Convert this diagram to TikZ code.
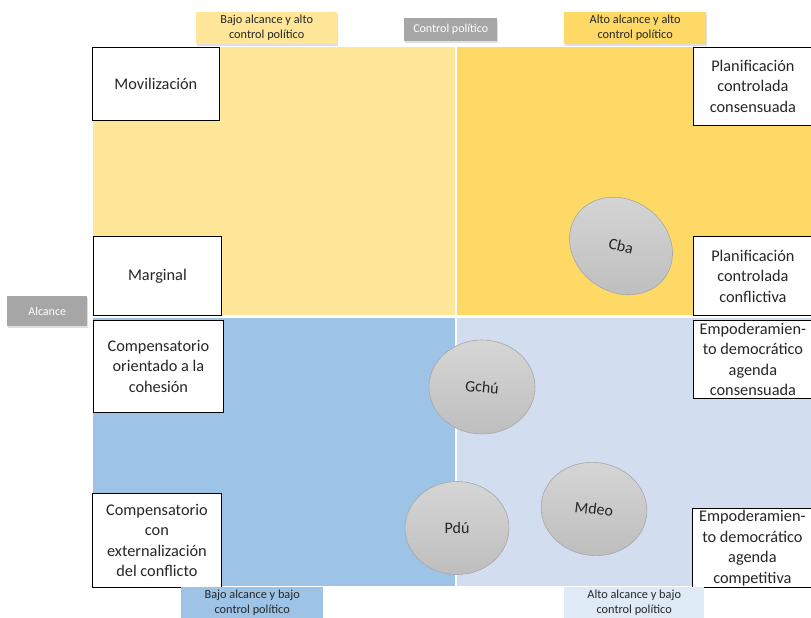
\documentclass[tikz,border=0pt]{standalone}
\usepackage{fontspec}
\setmainfont{Carlito}
\usetikzlibrary{shapes.geometric,shadows}
\definecolor{ylight}{HTML}{FFE699}
\definecolor{ydark}{HTML}{FFD966}
\definecolor{bdark}{HTML}{9DC3E6}
\definecolor{blight}{HTML}{D2DEF0}
\definecolor{btag}{HTML}{DEEBF7}
\definecolor{grayt}{HTML}{A6A6A6}
\definecolor{blobc}{HTML}{C8C8C8}
\definecolor{txt}{HTML}{262626}
\begin{document}
\begin{tikzpicture}[x=1pt,y=-1pt,
  catbox/.style={draw=black, line width=0.8pt, fill=white, align=center,
    font=\fontsize{16.3}{20.5}\selectfont, text=txt, anchor=north west, inner sep=0pt},
  tag/.style={align=center, font=\fontsize{12.3}{15}\selectfont, anchor=north west,
    inner sep=0pt, text=txt},
  tagshadow/.style={drop shadow={shadow xshift=1pt, shadow yshift=-1.5pt, opacity=0.25}},
  graytag/.style={fill=grayt, text=white, font=\fontsize{12}{14}\selectfont,
    anchor=north west, inner sep=0pt},
  blob/.style={ellipse, draw=black!35, line width=0.6pt, top color=blobc!75!white,
    bottom color=blobc!95!black, inner sep=0pt},
  blobtext/.style={font=\fontsize{16}{18}\selectfont, text=txt}
]
\useasboundingbox (0,0) rectangle (811,618);
\fill[white] (0,0) rectangle (811,618);
% quadrants
\fill[ylight] (93,47) rectangle (455,315);
\fill[ydark] (457,47) rectangle (811,315);
\fill[bdark] (93,318) rectangle (455,586);
\fill[blight] (457,318) rectangle (811,586);

% category boxes
\node[catbox, minimum width=127, minimum height=73] (movil) at (92,47) {Movilización};
\node[catbox, minimum width=128, minimum height=79] (marg) at (93,236) {Marginal};
\node[catbox, minimum width=130, minimum height=92] (comp1) at (93,320) {Compensatorio\\orientado a la\\cohesión};
\node[catbox, minimum width=129, minimum height=94] (comp2) at (92,493) {Compensatorio\\con\\externalización\\del conflicto};
\node[catbox, minimum width=119, minimum height=78] (plan1) at (693,47) {Planificación\\controlada\\consensuada};
\node[catbox, minimum width=119, minimum height=79] (plan2) at (693,236) {Planificación\\controlada\\conflictiva};
\node[catbox, minimum width=119, minimum height=78] (emp1) at (693,320) {Empoderamien-\\to democrático\\agenda\\consensuada};
\node[catbox, minimum width=120, minimum height=79] (emp2) at (692,508) {Empoderamien-\\to democrático\\agenda\\competitiva};

% tags
\node[tag, tagshadow, fill=ylight, minimum width=141, minimum height=32] (t1) at (196,12) {Bajo alcance y alto\\control político};
\node[tag, tagshadow, fill=ydark, minimum width=142, minimum height=32] (t2) at (564,12) {Alto alcance y alto\\control político};
\node[tag, fill=bdark, minimum width=142, minimum height=32] (b1) at (181,587) {Bajo alcance y bajo\\control político};
\node[tag, fill=btag, minimum width=140, minimum height=32] (b2) at (564,587) {Alto alcance y bajo\\control político};
\node[graytag, tagshadow, minimum width=93, minimum height=23] (cp) at (404,18) {Control político};
\node[graytag, tagshadow, minimum width=80, minimum height=30] (alc) at (7,296) {Alcance};

% blobs
\node[blob, rotate=-35, minimum width=108, minimum height=92] (cba) at (621,246) {};
\node[blobtext, rotate=-13, inner sep=0pt] (cbat) at (cba.center) {Cba};
\node[blob, minimum width=106, minimum height=94] (gchu) at (482,387) {};
\node[blobtext, rotate=-5] (gchut) at (gchu.center) {Gchú};
\node[blob, minimum width=104, minimum height=93] (pdu) at (457,528) {};
\node[blobtext] (pdut) at (pdu.center) {Pdú};
\node[blob, rotate=-8, minimum width=106, minimum height=93] (mdeo) at (594,509) {};
\node[blobtext, rotate=-7] (mdeot) at (mdeo.center) {Mdeo};
\end{tikzpicture}
\end{document}
